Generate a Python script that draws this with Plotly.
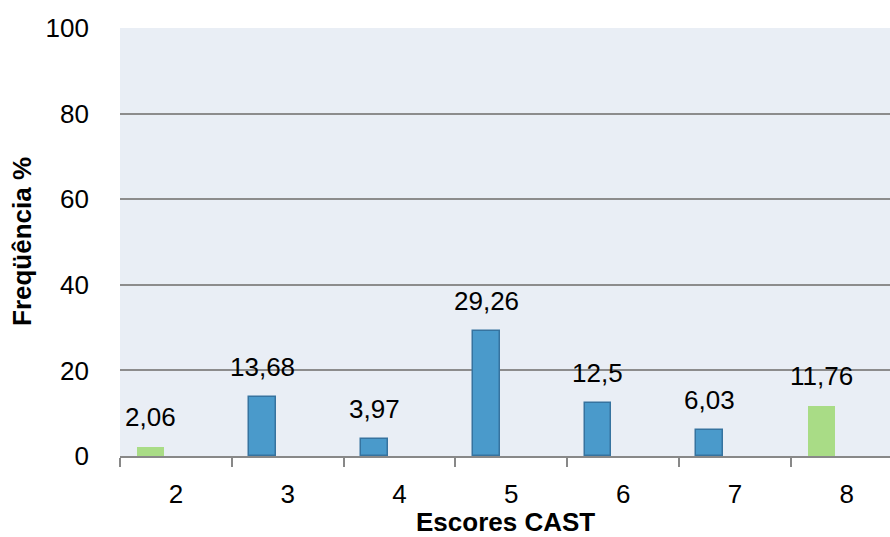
import plotly.graph_objects as go

categories = ["2", "3", "4", "5", "6", "7", "8"]
values = [2.06, 13.68, 3.97, 29.26, 12.5, 6.03, 11.76]
highlight = [True, False, False, False, False, False, True]
y_ticks = [0, 20, 40, 60, 80, 100]

BLUE = "#4A9ACB"
BLUE_EDGE = "#36739F"
GREEN = "#A9DC86"
FONT = "Liberation Sans, Arial, sans-serif"

BAR_W = 0.24
BAR_OFF = -0.345

fills = [GREEN if h else BLUE for h in highlight]
edges = [GREEN if h else BLUE_EDGE for h in highlight]
edge_w = [0 if h else 1.5 for h in highlight]
labels = [f"{v:g}".replace(".", ",") for v in values]
positions = list(range(len(categories)))

fig = go.Figure()
fig.add_trace(go.Bar(
    x=positions, y=values,
    width=BAR_W, offset=BAR_OFF,
    marker=dict(color=fills, line=dict(color=edges, width=edge_w)),
    showlegend=False, hoverinfo="skip",
))

for p, v, t in zip(positions, values, labels):
    fig.add_annotation(
        x=p + BAR_OFF + BAR_W / 2, y=v, xref="x", yref="y", text=t,
        showarrow=False, yanchor="bottom", yshift=13,
        font=dict(family=FONT, size=26, color="#000000"),
    )

fig.add_annotation(
    x=0.5, y=0, xref="paper", yref="paper", text="<b>Escores CAST</b>",
    showarrow=False, yanchor="middle", yshift=-66, borderpad=0,
    font=dict(family=FONT, size=26, color="#000000"),
)
fig.add_annotation(
    x=0, y=0.5, xref="paper", yref="paper", text="<b>Freqüência %</b>",
    showarrow=False, xanchor="center", yanchor="middle", xshift=-98,
    textangle=-90,
    font=dict(family=FONT, size=26, color="#000000"),
)

fig.update_layout(
    width=890, height=537,
    margin=dict(l=120, r=0, t=28, b=81),
    paper_bgcolor="#FFFFFF",
    plot_bgcolor="#E9EEF5",
    font=dict(family=FONT, size=26, color="#000000"),
    bargap=0,
)
boundaries = [p - 0.5 for p in positions] + [positions[-1] + 0.5]
fig.update_xaxes(
    range=[-0.5, 6.387],
    tickvals=positions, ticktext=categories, ticks="",
    showline=True, linecolor="#888888", linewidth=1.5,
    showgrid=False, zeroline=False, ticklabelstandoff=14,
    minor=dict(tickvals=boundaries, ticks="outside", ticklen=9,
               tickwidth=1.5, tickcolor="#888888", showgrid=False),
    tickfont=dict(family=FONT, size=26, color="#000000"),
)
fig.update_yaxes(
    range=[0, 100], tickvals=y_ticks, ticktext=[str(v) for v in y_ticks],
    showgrid=True, gridcolor="#8C8C8C", gridwidth=1.5,
    zeroline=False, showline=False, ticks="", ticklabelstandoff=30,
    tickfont=dict(family=FONT, size=26, color="#000000"),
)

fig.write_html("out.html", config={"displayModeBar": False},
               post_script="document.body.style.margin='0';")
